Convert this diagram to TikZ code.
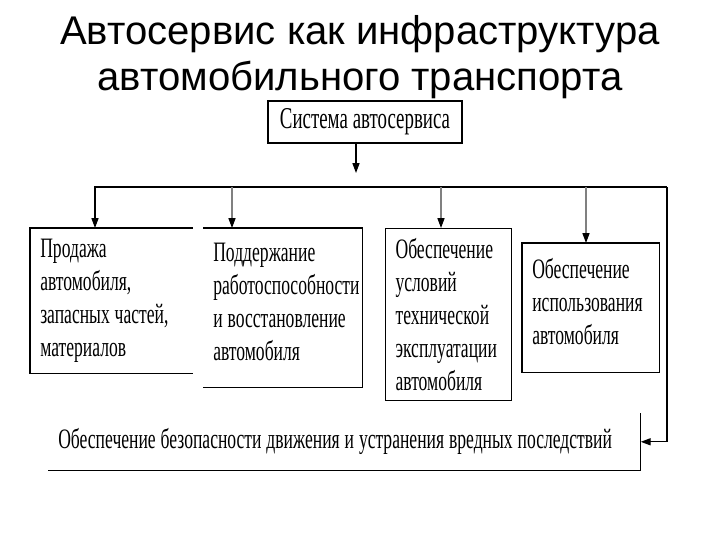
\documentclass[tikz,border=0pt]{standalone}
\usepackage{fontspec}
\setmainfont{Liberation Serif}
\newfontfamily\titlefont{Liberation Sans}
\newfontfamily\boxfont[FakeStretch=0.625]{Liberation Serif}
\newcommand\boxtext[1]{\boxfont\fontsize{#1}{23.5}\selectfont}
\usetikzlibrary{arrows.meta,positioning}

\begin{document}
\begin{tikzpicture}[x=0.025cm, y=-0.025cm,
    every node/.style={inner sep=0pt},
    blk/.style={anchor=north west, align=left, inner xsep=0.25cm, font=\boxtext{20},
      execute at begin node={\spaceskip=3.5pt\relax}},
    arr/.style={-{Triangle[length=7pt,width=5pt,color=black]}, line width=0.8pt}]
  \useasboundingbox (0,0) rectangle (720,540);

  % title
  \node[anchor=base, font=\titlefont\fontsize{28.5}{33}\selectfont] (title) at (360,44) {Автосервис как инфраструктура};
  \node[anchor=base, font=\titlefont\fontsize{28.5}{33}\selectfont] (title2) at (360,90) {автомобильного транспорта};

  % top box
  \node[draw, line width=0.8pt, minimum width=4.85cm, minimum height=1.05cm,
    font=\boxtext{21.5}, execute at begin node={\spaceskip=3.5pt\relax}] (sys) at (365,122) {Система автосервиса};

  % the four blocks
  \node[blk, text width=3.55cm, minimum height=3.625cm] (b1) at (30,228)
    {Продажа\\автомобиля,\\запасных частей,\\материалов};
  \node[blk, text width=3.475cm, minimum height=3.675cm] (b2) at (203,228)
    {Поддержание\\работоспособности\\и восстановление\\автомобиля};
  \node[blk, draw, line width=0.8pt, text width=2.65cm, minimum height=4.3cm] (b3) at (385,228)
    {Обеспечение\\условий\\технической\\эксплуатации\\автомобиля};
  \node[blk, text width=2.925cm, minimum height=2.925cm] (b4) at (522,243)
    {Обеспечение\\использования\\автомобиля};
  \node[blk, text width=14.3cm, minimum height=1.425cm] (safe) at (48,413)
    {Обеспечение безопасности движения и устранения вредных последствий};

  % borders (open sides as in the scan)
  \draw[line width=0.8pt] (b1.north east) -- (b1.north west) -- (b1.south west) -- (b1.south east);
  \draw[line width=0.8pt] (b2.north west) -- (b2.north east) -- ([yshift=-0.3cm]b2.south east) -- ([yshift=-0.3cm]b2.south west);
  \draw[line width=0.8pt] (b4.north west) rectangle ([yshift=-0.3cm]b4.south east);
  \draw[line width=0.8pt] (safe.north east) -- (safe.south east) -- (safe.south west);

  % connectors
  \coordinate (hub) at (356,173);
  \coordinate (busL) at (95,187);
  \coordinate (busR) at (667,187);
  \draw[arr] (hub |- sys.south) -- (hub);
  \draw[arr] (busR) -- (busL) -- (busL |- b1.north);
  \draw[arr] (busR) |- (safe.east);
  \foreach \n/\x in {b2/232,b3/441,b4/586} {
    \coordinate (t\n) at (\x,187);
    \draw[arr, gray] (t\n) -- (t\n |- \n.north);
  }
\end{tikzpicture}
\end{document}
